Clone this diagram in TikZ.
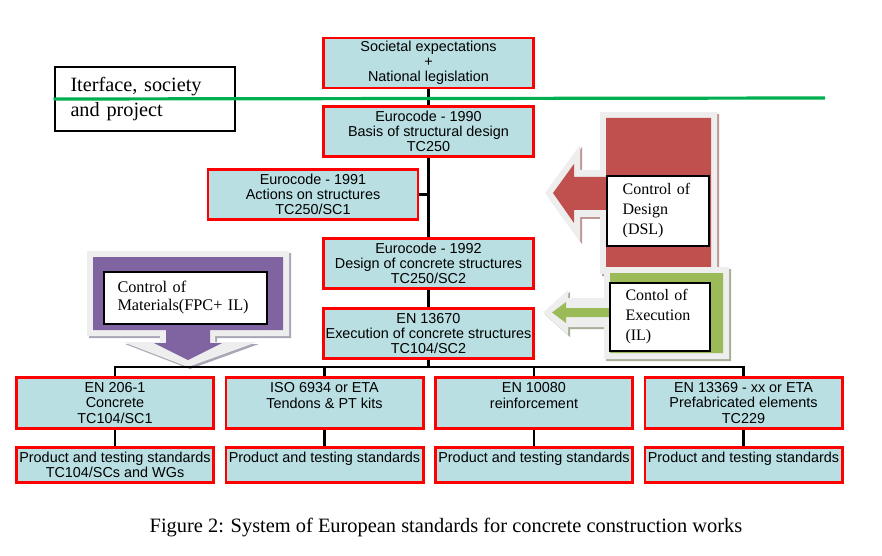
\documentclass[tikz,border=0pt]{standalone}
\usepackage{fontspec}
\setmainfont{Liberation Serif}
\setsansfont{Liberation Sans}
\usetikzlibrary{positioning}

\definecolor{boxfill}{RGB}{185,223,226}
\definecolor{boxred}{RGB}{255,0,0}
\definecolor{linegreen}{RGB}{0,176,80}
\definecolor{dslred}{RGB}{192,80,77}
\definecolor{dslshade}{RGB}{190,150,150}
\definecolor{ilgreen}{RGB}{155,187,89}
\definecolor{ilshade}{RGB}{165,175,150}
\definecolor{fpcpurple}{RGB}{128,100,162}
\definecolor{fpcshade}{RGB}{170,165,180}
\definecolor{rimgray}{RGB}{238,238,238}

\tikzset{
  stdbox/.style={draw=boxred, line width=2.2pt, fill=boxfill, inner sep=0pt,
    align=center, minimum width=157.5pt, minimum height=37.5pt,
    font=\sffamily\fontsize{10.8}{11.3}\selectfont},
  lowbox/.style={stdbox, minimum width=147.8pt, minimum height=38.3pt},
  prodbox/.style={stdbox, minimum width=147.8pt, minimum height=26.3pt},
  ctrlbox/.style={draw=black, line width=1.5pt, fill=white, inner xsep=12pt,
    inner ysep=0pt, align=left, font=\fontsize{12}{15}\selectfont},
  link/.style={line width=1.7pt},
}

\begin{document}
\begin{tikzpicture}[x=0.75pt, y=-0.75pt]
  \useasboundingbox (0,0) rectangle (882,556);

  % Control of Design
  \fill[dslshade, shift={(2,2)}] (600,112) -- (717,112) -- (717,274) -- (600,274) -- (600,217)
    -- (580,217) -- (580,242) -- (545,193) -- (580,145) -- (580,170) -- (600,170) -- cycle;
  \fill[rimgray] (600,112) -- (717,112) -- (717,274) -- (600,274) -- (600,217)
    -- (580,217) -- (580,242) -- (545,193) -- (580,145) -- (580,170) -- (600,170) -- cycle;
  \fill[dslred] (606,118) -- (711,118) -- (711,268) -- (606,268) -- (606,210)
    -- (574,210) -- (574,223) -- (553,193) -- (574,164) -- (574,177) -- (606,177) -- cycle;
  % Control of Execution
  \fill[ilshade, shift={(2,2)}] (604,267) -- (729,267) -- (729,359) -- (604,359) -- (604,327)
    -- (568,327) -- (568,335) -- (543,312.5) -- (568,290) -- (568,298) -- (604,298) -- cycle;
  \fill[rimgray] (604,267) -- (729,267) -- (729,359) -- (604,359) -- (604,327)
    -- (568,327) -- (568,335) -- (543,312.5) -- (568,290) -- (568,298) -- (604,298) -- cycle;
  \fill[ilgreen] (610,273) -- (723,273) -- (723,353) -- (610,353) -- (610,317)
    -- (566,317) -- (566,323) -- (552,312.5) -- (566,302) -- (566,308) -- (610,308) -- cycle;
  % Control of Materials
  \fill[fpcshade, shift={(2,2)}] (87,251) -- (289,251) -- (289,336) -- (215,336) -- (215,342)
    -- (257,342) -- (188,367) -- (123,342) -- (160,342) -- (160,336) -- (87,336) -- cycle;
  \fill[rimgray] (87,251) -- (289,251) -- (289,336) -- (215,336) -- (215,342)
    -- (257,342) -- (188,367) -- (123,342) -- (160,342) -- (160,336) -- (87,336) -- cycle;
  \fill[fpcpurple] (93,257) -- (283,257) -- (283,330) -- (210,330) -- (210,343)
    -- (222,343) -- (188,360) -- (154,343) -- (166,343) -- (166,330) -- (93,330) -- cycle;

  % Main column
  \coordinate (bus) at (428.5,367);
  \node[stdbox] (soc) at (428.5,63) {Societal expectations\\+\\National legislation};
  \draw[link] (soc.south) -- (bus);
  \node[stdbox] (ec0) at (428.5,131.5) {Eurocode - 1990\\Basis of structural design\\TC250};
  \node[stdbox] (ec1) at (313,194.5) {Eurocode - 1991\\Actions on structures\\TC250/SC1};
  \node[stdbox] (ec2) at (428.5,263.5) {Eurocode - 1992\\Design of concrete structures\\TC250/SC2};
  \node[stdbox] (exe) at (428.5,333.5) {EN 13670\\Execution of concrete structures\\TC104/SC2};
  \draw[link] (ec1.east) -- (ec1.east -| soc.south);

  % Products
  \node[lowbox] (conc) at (115,403) {EN 206-1\\Concrete\\TC104/SC1};
  \node[lowbox] (tend) at (324.5,403) {ISO 6934 or ETA\\Tendons \& PT kits\\~};
  \node[lowbox] (reinf) at (534,403) {EN 10080\\reinforcement\\~};
  \node[lowbox] (prefab) at (743.5,403) {EN 13369 - xx or ETA\\Prefabricated elements\\TC229};
  \node[prodbox] (pconc) at (115,465) {Product and testing standards\\TC104/SCs and WGs};
  \node[prodbox] (ptend) at (324.5,465) {Product and testing standards\\~};
  \node[prodbox] (preinf) at (534,465) {Product and testing standards\\~};
  \node[prodbox] (pprefab) at (743.5,465) {Product and testing standards\\~};
  \draw[link] (conc.north) |- (bus) -| (prefab.north);
  \draw[link] (tend.north) -- (tend.north |- bus);
  \draw[link] (reinf.north) -- (reinf.north |- bus);
  \draw[link] (conc.south) -- (pconc.north);
  \draw[link] (tend.south) -- (ptend.north);
  \draw[link] (reinf.south) -- (preinf.north);
  \draw[link] (prefab.south) -- (pprefab.north);

  % Interface line
  \node[ctrlbox, text width=111pt, minimum height=48pt, font=\fontsize{15.2}{18.75}\selectfont]
    (iface) at (144.5,99) {Iterface, society\\and project};
  \draw[linegreen, line width=2.4pt] (iface.west) -- (825,98);

  % Control labels
  \node[ctrlbox, text width=53pt, minimum height=52.5pt] (dsl) at (658,211) {Control of\\Design\\(DSL)};
  \node[ctrlbox, text width=51pt, minimum height=51pt] (il) at (659.5,317) {Contol of\\Execution\\(IL)};
  \node[ctrlbox, inner xsep=10pt, text width=102pt, minimum height=39pt,
    font=\fontsize{12.2}{13.5}\selectfont] (fpc) at (185.5,298) {Control of\\Materials(FPC+ IL)};

  % Caption
  \node[font=\fontsize{15.3}{18}\selectfont] (caption) at (446,528)
    {Figure 2: System of European standards for concrete construction works};
\end{tikzpicture}
\end{document}
